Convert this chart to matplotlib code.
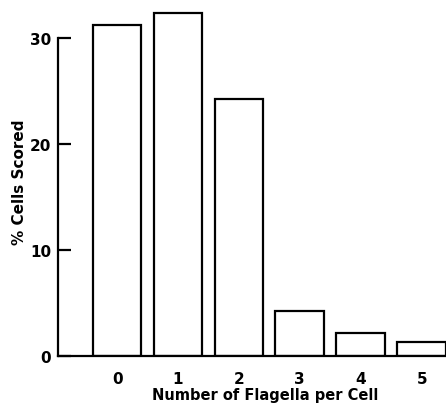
import numpy as np
import matplotlib.pyplot as plt

# flagella counts and percent of cells
flagella = [0, 1, 2, 3, 4, 5]
percent = [31.2, 32.3, 24.2, 4.2, 2.2, 1.3]
yticks = [0, 10, 20, 30]

fig = plt.figure(figsize=(4.46, 4.06), dpi=100)
ax = fig.add_axes([0.13, 0.121, 0.87, 0.862])

ax.bar(flagella, percent, width=0.8, color='white', edgecolor='black', linewidth=1.6)

ax.set_xlim(-0.97, 5.4)
ax.set_ylim(0, 33)
ax.set_yticks(yticks)
ax.set_xticks(flagella)
ax.set_xticklabels([str(f) for f in flagella])

for s in ['top', 'right']:
    ax.spines[s].set_visible(False)
ax.spines['left'].set_bounds(0, 30)
ax.spines['left'].set_linewidth(1.6)
ax.spines['bottom'].set_linewidth(1.6)

ax.tick_params(axis='y', direction='in', length=9, width=1.6, pad=5, labelsize=11)
ax.tick_params(axis='x', length=0, pad=11, labelsize=11)
for lab in ax.get_xticklabels() + ax.get_yticklabels():
    lab.set_fontweight('bold')

ax.set_ylabel("% Cells Scored", fontsize=11, fontweight='bold', labelpad=2)
fig.text(0.595, 0.008, "Number of Flagella per Cell", fontsize=10.5,
         fontweight='bold', ha='center', va='bottom')

fig.savefig('out.png', dpi=100)
